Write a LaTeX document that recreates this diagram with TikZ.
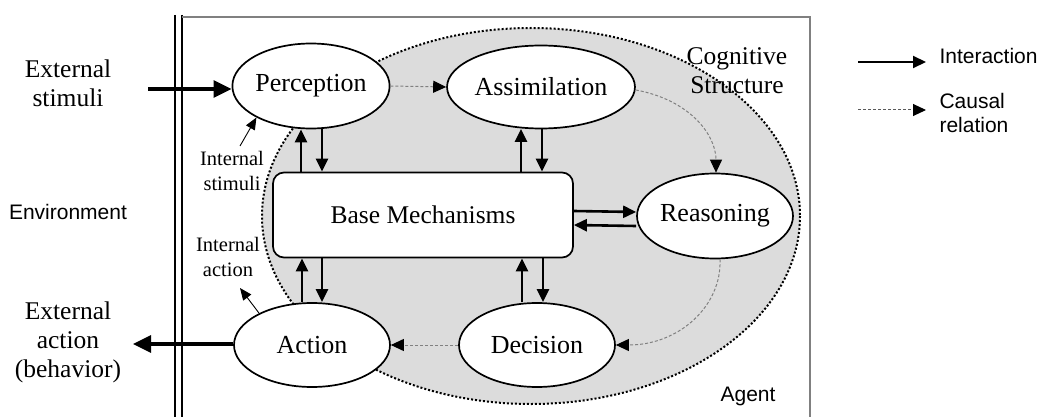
\documentclass[tikz,border=0pt]{standalone}
\usepackage{fontspec}
\setmainfont{Liberation Serif}
\setsansfont{Liberation Sans}
\usetikzlibrary{shapes.geometric,arrows.meta,calc}
\definecolor{structgray}{HTML}{DCDCDC}
\begin{document}
\begin{tikzpicture}[x=1pt,y=-1pt,
  stage/.style={ellipse,draw,line width=1.7pt,fill=white,inner sep=0pt,
    font=\fontsize{26}{26}\selectfont},
  mechbox/.style={rectangle,rounded corners=11pt,draw,line width=1.7pt,fill=white,
    font=\fontsize{25.5}{25.5}\selectfont},
  serifnote/.style={align=center,font=\fontsize{25.5}{29}\selectfont},
  smallnote/.style={align=center,font=\fontsize{20.5}{25}\selectfont},
  sansnote/.style={align=left,font=\sffamily\fontsize{21}{24}\selectfont},
  interact/.style={line width=2.6pt,-{Triangle[length=13pt,width=12pt]}},
  bigarrow/.style={line width=3.2pt,-{Triangle[length=18pt,width=17pt]}},
  causal/.style={densely dashed,gray,line width=1pt,
    -{Triangle[length=13pt,width=12pt,color=black]}},
  thinarrow/.style={line width=0.9pt,-{Triangle[length=12pt,width=10pt]}}]

\useasboundingbox (0,0) rectangle (1038,417);

% environment / agent border and the agent frame
\draw[line width=1.4pt] (175,15) -- (175,417);
\draw[line width=1.4pt] (182,15) -- (182,417);
\draw[gray,line width=1.1pt] (182,17) -- (810,17) -- (810,417);

% cognitive structure region
\fill[structgray] (531,216) ellipse [x radius=269, y radius=188];
\draw[line width=2pt,dotted] (531,216) ellipse [x radius=269, y radius=188];

% stages
\node[stage,minimum width=156pt,minimum height=85pt] (perc) at (311,86) {Perception};
\node[stage,minimum width=174pt,minimum height=83pt] (assim) at (541,87) {Assimilation};
\node[stage,minimum width=156pt,minimum height=85pt] (reas) at (715,216) {Reasoning};
\node[stage,minimum width=156pt,minimum height=84pt] (deci) at (537,345) {Decision};
\node[stage,minimum width=156pt,minimum height=84pt] (act) at (312,345) {Action};
\node[mechbox,minimum width=300pt,minimum height=85pt] (base) at (423,215) {Base Mechanisms};

% labels
\node[serifnote] (extstim) at (68,83) {External\\stimuli};
\node[serifnote] (extact) at (68,342) {External\\action\\(behavior)};
\node[sansnote] (env) at (68,212) {Environment};
\node[smallnote] (intstim) at (232,171) {Internal\\stimuli};
\node[smallnote] (intact) at (228,257) {Internal\\action};
\node[serifnote] (cogn) at (737,71) {Cognitive\\Structure};
\node[sansnote] (agent) at (748,396) {Agent};

% external interaction
\coordinate (stimsrc) at (148,89);
\coordinate (actdst) at (133,344);
\draw[bigarrow] (stimsrc) -- (perc.west |- stimsrc);
\draw[bigarrow] (act.west |- actdst) -- (actdst);

% interactions with the base mechanisms
\draw[interact] ($(base.north -| perc.south)+(-10,0)$) -- ($(perc.south)+(-10,0)$);
\draw[interact] ($(perc.south)+(11,0)$) -- ($(base.north -| perc.south)+(11,0)$);
\draw[interact] ($(base.north -| assim.south)+(-20,0)$) -- ($(assim.south)+(-20,-0.5)$);
\draw[interact] ($(assim.south)+(1,0)$) -- ($(base.north -| assim.south)+(1,0)$);
\draw[interact] ($(act.north)+(-10,0)$) -- ($(base.south -| act.north)+(-10,0)$);
\draw[interact] ($(base.south -| act.north)+(10,0)$) -- ($(act.north)+(10,0)$);
\draw[interact] ($(deci.north)+(-15,0)$) -- ($(base.south -| deci.north)+(-15,0)$);
\draw[interact] ($(base.south -| deci.north)+(6,0)$) -- ($(deci.north)+(6,0)$);
\draw[interact] ($(base.east)+(0,-4)$) -- ($(reas.west)+(0,-4)$);
\draw[interact] ($(reas.west)+(0,10)$) -- ($(base.east)+(0,10)$);

% causal chain
\draw[causal] (perc.east) -- (assim.west);
\draw[causal] ($(assim.east)+(0,3)$) .. controls (690,100) and (716,135) .. ($(reas.north)+(1,0)$);
\draw[causal] ($(reas.south)+(5,0)$) .. controls (722,305) and (680,345) .. (deci.east);
\draw[causal] (deci.west) -- (act.east);

% internal stimuli and action
\coordinate (isfoot) at (240,146);
\coordinate (iahead) at (240,288);
\draw[thinarrow] (isfoot) -- (perc.210);
\draw[thinarrow] (act.149) -- (iahead);

% legend
\coordinate (leg1a) at (858,62);
\coordinate (leg1b) at (926,62);
\coordinate (leg2a) at (858,110);
\coordinate (leg2b) at (926,110);
\draw[interact,line width=2pt] (leg1a) -- (leg1b);
\draw[causal,gray!70!black] (leg2a) -- (leg2b);
\node[sansnote,anchor=west] (leginter) at (936,56) {Interaction};
\node[sansnote,anchor=west] (legcausal) at (936,113) {Causal\\relation};
\end{tikzpicture}
\end{document}
